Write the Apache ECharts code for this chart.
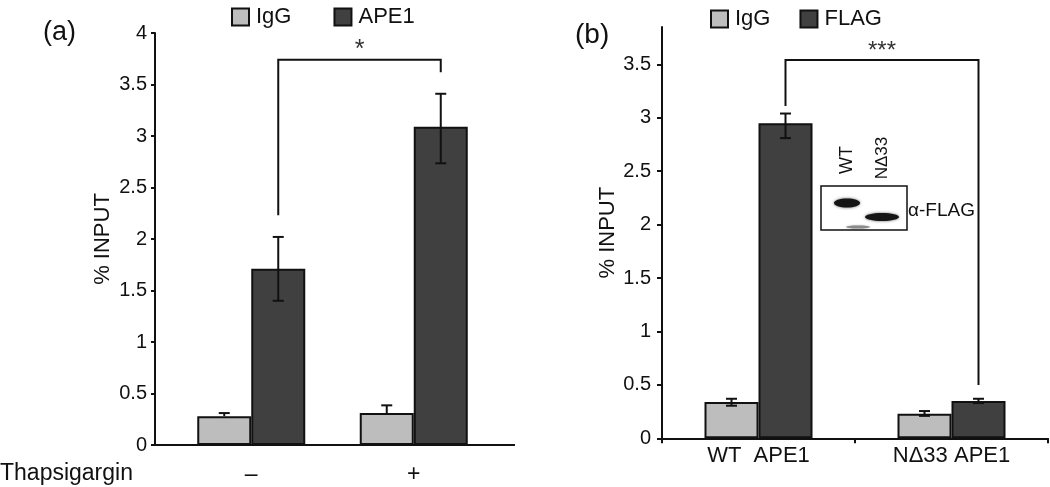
<!DOCTYPE html>
<html>
<head>
<meta charset="utf-8">
<script src="https://cdn.jsdelivr.net/npm/echarts@6/dist/echarts.min.js"></script>
<style>
html,body{margin:0;padding:0;background:#fff;}
#c{width:1050px;height:487px;}
</style>
</head>
<body>
<div id="c"></div>
<script>
// ---------- data ----------
const aCategories = ['\u2013', '+'];
const aIgG = [0.28, 0.31];
const aIgGErrUp = [0.03, 0.075];
const aIgGErrDown = [0, 0];
const aAPE1 = [1.71, 3.09];
const aAPE1ErrUp = [0.31, 0.32];
const aAPE1ErrDown = [0.31, 0.355];
const aTicks = [0, 0.5, 1, 1.5, 2, 2.5, 3, 3.5, 4];
// bracket: [fromCategory, toCategory, topValue, leftEndValue, rightEndValue]
const aSig = [[0, 1, 3.74, 2.23, 3.62]];
const aSigLabel = ['*'];

const bCategories = ['WT  APE1', 'N\u039433 APE1'];
const bIgG = [0.34, 0.23];
const bIgGErrUp = [0.03, 0.025];
const bIgGErrDown = [0.035, 0.02];
const bFLAG = [2.95, 0.35];
const bFLAGErrUp = [0.09, 0.02];
const bFLAGErrDown = [0.14, 0.02];
const bTicks = [0, 0.5, 1, 1.5, 2, 2.5, 3, 3.5];
const bSig = [[0, 1, 3.54, 3.11, 0.5]];
const bSigLabel = ['***'];

// ---------- style ----------
const FONT = "'Liberation Sans', Arial, sans-serif";
const INK = '#111';
const LIGHT = '#bdbdbd';
const DARK = '#404040';
const BAR_W = 54;

const chart = echarts.init(document.getElementById('c'), null, {renderer: 'canvas'});

function errSeries(grid, vals, up, down, side) {
  return {
    type: 'custom', xAxisIndex: grid, yAxisIndex: grid, z: 10, silent: true,
    data: vals.map((v, i) => [i, v, up[i], down[i]]),
    renderItem: function (params, api) {
      const i = api.value(0), v = api.value(1), u = api.value(2), d = api.value(3);
      const c = api.coord([i, v]);
      const x = c[0] + side * BAR_W / 2;
      const yT = api.coord([i, v + u])[1];
      const yB = api.coord([i, v - d])[1];
      const st = {stroke: INK, lineWidth: 2};
      const ch = [
        {type: 'line', shape: {x1: x, y1: yT, x2: x, y2: yB}, style: st},
        {type: 'line', shape: {x1: x - 5.5, y1: yT, x2: x + 5.5, y2: yT}, style: st}
      ];
      if (d > 0) ch.push({type: 'line', shape: {x1: x - 5.5, y1: yB, x2: x + 5.5, y2: yB}, style: st});
      return {type: 'group', children: ch};
    }
  };
}

function sigSeries(grid, sig, labels, fontSize) {
  return {
    type: 'custom', xAxisIndex: grid, yAxisIndex: grid, z: 12, silent: true,
    data: sig,
    renderItem: function (params, api) {
      const f = api.value(0), t = api.value(1), top = api.value(2), le = api.value(3), re = api.value(4);
      const x1 = api.coord([f, top])[0] + BAR_W / 2;
      const x2 = api.coord([t, top])[0] + BAR_W / 2;
      const yTop = api.coord([f, top])[1];
      const yL = api.coord([f, le])[1];
      const yR = api.coord([t, re])[1];
      return {
        type: 'group', children: [
          {type: 'polyline', shape: {points: [[x1, yL], [x1, yTop], [x2, yTop], [x2, yR]]},
           style: {stroke: INK, lineWidth: 2, fill: null}},
          {type: 'text', x: (x1 + x2) / 2, y: yTop + 3,
           style: {text: labels[params.dataIndex], align: 'center', verticalAlign: 'bottom',
                   font: fontSize + 'px ' + FONT, fill: '#333'}}
        ]
      };
    }
  };
}

const axisLineStyle = {color: INK, width: 2};

const option = {
  animation: false,
  backgroundColor: '#fff',
  textStyle: {fontFamily: FONT, color: INK},
  title: [
    {text: '(a)', left: 38, top: 14, textStyle: {fontFamily: FONT, fontSize: 27, fontWeight: 'normal', color: INK}},
    {text: '(b)', left: 570, top: 16, textStyle: {fontFamily: FONT, fontSize: 28, fontWeight: 'normal', color: INK}}
  ],
  legend: [
    {data: ['IgG', 'APE1'], left: 226, top: 1, itemWidth: 17, itemHeight: 17, itemGap: 42, icon: 'rect',
     textStyle: {fontFamily: FONT, fontSize: 22, color: INK, padding: [0, 0, 0, 2]}},
    {data: ['IgG', 'FLAG'], left: 705, top: 3, itemWidth: 17, itemHeight: 17, itemGap: 29, icon: 'rect',
     textStyle: {fontFamily: FONT, fontSize: 22, color: INK, padding: [0, 0, 0, 2]}}
  ],
  grid: [
    {left: 170, top: 33, width: 325, height: 412},
    {left: 662, top: 27, width: 386, height: 411.3}
  ],
  xAxis: [
    {type: 'category', gridIndex: 0, data: aCategories,
     axisLine: {show: false}, axisTick: {show: false},
     axisLabel: {fontFamily: FONT, fontSize: 23, color: INK, margin: 18}},
    {type: 'category', gridIndex: 1, data: bCategories,
     axisLine: {lineStyle: axisLineStyle},
     axisTick: {show: true, length: 5, lineStyle: {color: INK, width: 2}},
     axisLabel: {fontFamily: FONT, fontSize: 22, color: INK, margin: 7}}
  ],
  yAxis: [
    {type: 'value', gridIndex: 0, min: 0, max: 4, interval: 0.5, offset: 15,
     name: '% INPUT', nameLocation: 'middle', nameGap: 41,
     nameTextStyle: {fontFamily: FONT, fontSize: 22, color: INK},
     splitLine: {show: false},
     axisLine: {show: true, lineStyle: axisLineStyle},
     axisTick: {show: true, length: 4, lineStyle: {color: INK, width: 2}, customValues: aTicks},
     axisLabel: {fontFamily: FONT, fontSize: 20, color: INK, margin: 8, customValues: aTicks}},
    {type: 'value', gridIndex: 1, min: 0, max: 3.85, interval: 0.5,
     name: '% INPUT', nameLocation: 'middle', nameGap: 43,
     nameTextStyle: {fontFamily: FONT, fontSize: 22, color: INK},
     splitLine: {show: false},
     axisLine: {show: true, lineStyle: axisLineStyle},
     axisTick: {show: true, length: 5, lineStyle: {color: INK, width: 2}, customValues: bTicks},
     axisLabel: {fontFamily: FONT, fontSize: 20, color: INK, margin: 11, customValues: bTicks}}
  ],
  series: [
    {name: 'IgG', type: 'bar', xAxisIndex: 0, yAxisIndex: 0, data: aIgG, barWidth: BAR_W, barGap: '0%',
     itemStyle: {color: LIGHT, borderColor: INK, borderWidth: 2}},
    {name: 'APE1', type: 'bar', xAxisIndex: 0, yAxisIndex: 0, data: aAPE1, barWidth: BAR_W, barGap: '0%',
     itemStyle: {color: DARK, borderColor: INK, borderWidth: 2}},
    {name: 'IgG', type: 'bar', xAxisIndex: 1, yAxisIndex: 1, data: bIgG, barWidth: BAR_W, barGap: '0%',
     itemStyle: {color: LIGHT, borderColor: INK, borderWidth: 2}},
    {name: 'FLAG', type: 'bar', xAxisIndex: 1, yAxisIndex: 1, data: bFLAG, barWidth: BAR_W, barGap: '0%',
     itemStyle: {color: DARK, borderColor: INK, borderWidth: 2}},
    errSeries(0, aIgG, aIgGErrUp, aIgGErrDown, -1),
    errSeries(0, aAPE1, aAPE1ErrUp, aAPE1ErrDown, 1),
    errSeries(1, bIgG, bIgGErrUp, bIgGErrDown, -1),
    errSeries(1, bFLAG, bFLAGErrUp, bFLAGErrDown, 1),
    sigSeries(0, aSig, aSigLabel, 25),
    sigSeries(1, bSig, bSigLabel, 24)
  ]
};
chart.setOption(option);

// x-axis baseline of panel (a), running from the y axis across the panel, plus text and inset blot
const y0a = chart.convertToPixel({yAxisIndex: 0}, 0);
const xAxisA = 170 - 15;
chart.setOption({
  graphic: [
    {type: 'line', shape: {x1: xAxisA, y1: y0a, x2: 515, y2: y0a}, style: {stroke: INK, lineWidth: 2}, z: 5},
    {type: 'text', left: 0, top: 462, style: {text: 'Thapsigargin', font: '23px ' + FONT, fill: INK}},
    // inset western blot
    {type: 'rect', shape: {x: 821, y: 186, width: 86, height: 44}, style: {fill: '#fff', stroke: INK, lineWidth: 1.5}, z: 20},
    {type: 'ellipse', shape: {cx: 847, cy: 203, rx: 13, ry: 4.5}, style: {fill: '#151515', shadowBlur: 3, shadowColor: 'rgba(0,0,0,0.6)'}, z: 21},
    {type: 'ellipse', shape: {cx: 882, cy: 217, rx: 17, ry: 4}, style: {fill: '#151515', shadowBlur: 3, shadowColor: 'rgba(0,0,0,0.6)'}, z: 21},
    {type: 'ellipse', shape: {cx: 858, cy: 227, rx: 12, ry: 1.5}, style: {fill: '#8a8a8a', shadowBlur: 2, shadowColor: 'rgba(0,0,0,0.3)'}, z: 21},
    {type: 'text', x: 847, y: 160, rotation: Math.PI / 2, z: 21,
     style: {text: 'WT', font: '18px ' + FONT, fill: INK, align: 'center', verticalAlign: 'middle'}},
    {type: 'text', x: 882, y: 158, rotation: Math.PI / 2, z: 21,
     style: {text: 'N\u039433', font: '17px ' + FONT, fill: INK, align: 'center', verticalAlign: 'middle'}},
    {type: 'text', x: 908, y: 211, z: 21,
     style: {text: '\u03b1-FLAG', font: '19px ' + FONT, fill: INK, align: 'left', verticalAlign: 'middle'}}
  ]
});
</script>
</body>
</html>
